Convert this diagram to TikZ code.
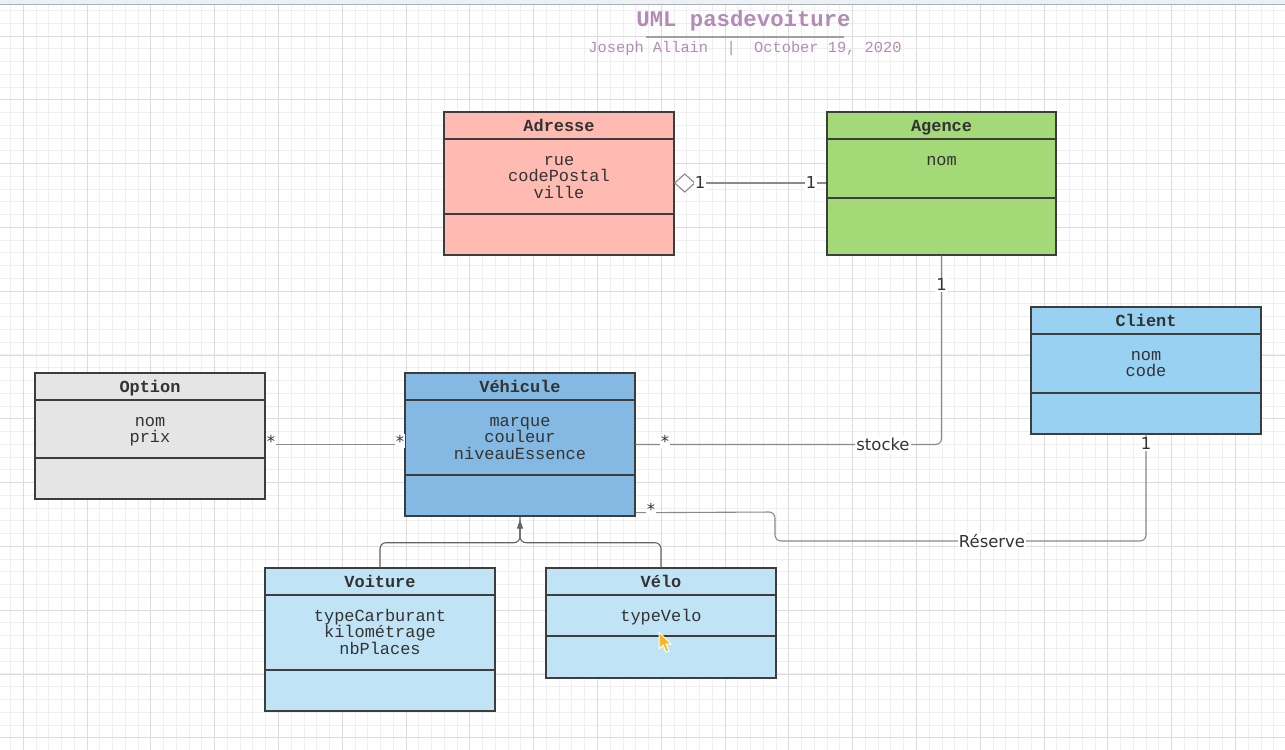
\documentclass[tikz,border=0pt]{standalone}
\usepackage{fontspec}
\usetikzlibrary{calc,arrows.meta}
\newfontfamily\monof{Liberation Mono}
\newfontfamily\sansf{DejaVu Sans}
\definecolor{adrfill}{HTML}{FFBBB1}
\definecolor{agcfill}{HTML}{A3D977}
\definecolor{clifill}{HTML}{99D1F2}
\definecolor{optfill}{HTML}{E5E5E5}
\definecolor{vehfill}{HTML}{83B9E3}
\definecolor{subfill}{HTML}{C0E4F6}
\definecolor{txt}{HTML}{333333}
\definecolor{boxline}{HTML}{3D3D3D}
\definecolor{connline}{HTML}{8A8A8A}
\definecolor{ttl}{RGB}{178,140,182}
\definecolor{gridminor}{HTML}{EFEFEF}
\definecolor{gridmajor}{HTML}{DCDCDC}
\definecolor{bandfill}{HTML}{EEF1F4}
\definecolor{bandline}{HTML}{A8B0BB}
\definecolor{ulinecol}{HTML}{A0A0A0}
\definecolor{cursorcol}{HTML}{F6B820}
\tikzset{
  clsbox/.style={draw=boxline, line width=1.4bp, rectangle, inner sep=0pt},
  clsline/.style={draw=boxline, line width=1.4bp},
  clstitle/.style={font=\monof\bfseries\fontsize{17}{17}\selectfont, text=txt, inner sep=0pt, anchor=base},
  attr/.style={font=\monof\fontsize{17}{17}\selectfont, text=txt, inner sep=0pt, anchor=base},
  conn/.style={draw=connline, line width=1.1bp},
  inhline/.style={draw=boxline!80, line width=1.1bp, rounded corners=6bp},
  lbl/.style={font=\sansf\fontsize{16.5}{17}\selectfont, text=txt, fill=white, inner sep=1bp},
  gridmin/.style={draw=gridminor, line width=1bp},
  gridmaj/.style={draw=gridmajor, line width=1bp},
}
\newcommand\umlbox[9]{%
  \pgfmathsetmacro\bx{(#2+#4)/2}%
  \pgfmathsetmacro\by{(#3+#5)/2}%
  \pgfmathsetmacro\bw{#4-#2}%
  \pgfmathsetmacro\bh{#5-#3}%
  \node[clsbox, fill=#8, minimum width=\bw bp, minimum height=\bh bp] (#1) at (\bx,\by) {};
  \draw[clsline] (#2,#6) -- (#4,#6);
  \draw[clsline] (#2,#7) -- (#4,#7);
  \node[clstitle] (#1-title) at (\bx,{#3+19}) {#9};
}
% name, x centre, divider y, list of attributes
\newcommand\umlattrs[4]{%
  \foreach \t [count=\n] in {#4} {
    \node[attr] (#1-a\n) at (#2,{#3+26+(\n-1)*16.8}) {\t};
  }
}
\begin{document}
\begin{tikzpicture}[x=1bp,y=-1bp]
\useasboundingbox (0,0) rectangle (1285,750);
\fill[white] (0,0) rectangle (1285,750);
% grid (snapped to pixel centres)
\foreach \i in {-2,...,100} { \draw[gridmin] ({floor(23.3+\i*12.76)+0.5},5) -- ({floor(23.3+\i*12.76)+0.5},750); }
\foreach \i in {-2,...,57} { \draw[gridmin] (0,{floor(36+\i*12.76)+0.5}) -- (1285,{floor(36+\i*12.76)+0.5}); }
\foreach \i in {0,...,19} { \draw[gridmaj] ({floor(23.3+\i*63.8)+0.5},5) -- ({floor(23.3+\i*63.8)+0.5},750); }
\foreach \i in {0,...,11} { \draw[gridmaj] (0,{floor(36+\i*63.8)+0.5}) -- (1285,{floor(36+\i*63.8)+0.5}); }
% top band
\fill[bandfill] (0,0) rectangle (1285,4.5);
\draw[bandline, line width=1bp] (0,4.5) -- (1285,4.5);
% title
\node[font=\monof\bfseries\fontsize{22.4}{24}\selectfont, text=ttl, inner sep=0pt] (title) at (743.5,20.5) {UML pasdevoiture};
\draw[ulinecol, line width=1.3bp] (646,37) -- (844,37);
\node[font=\monof\fontsize{15.4}{16}\selectfont, text=ttl, inner sep=0pt] (subtitle) at (745,48.5) {Joseph Allain\ \ |\ \ October 19, 2020};
% classes
\umlbox{adr}{444}{112}{674}{255}{139}{214}{adrfill}{Adresse}
\umlattrs{adr}{559}{139}{rue,codePostal,ville}
\umlbox{agc}{827}{112}{1056}{255}{139}{198}{agcfill}{Agence}
\umlattrs{agc}{941.5}{139}{nom}
\umlbox{cli}{1031}{307}{1261}{434}{334}{393}{clifill}{Client}
\umlattrs{cli}{1146}{334}{nom,code}
\umlbox{opt}{35}{373}{265}{499}{400}{458}{optfill}{Option}
\umlattrs{opt}{150}{400}{nom,prix}
\umlbox{veh}{405}{373}{635}{516}{400}{475}{vehfill}{Véhicule}
\umlattrs{veh}{520}{400}{marque,couleur,niveauEssence}
\umlbox{voi}{265}{568}{495}{711}{595}{670}{subfill}{Voiture}
\umlattrs{voi}{380}{595}{typeCarburant,kilométrage,nbPlaces}
\umlbox{vel}{546}{568}{776}{678}{595}{636}{subfill}{Vélo}
\umlattrs{vel}{661}{595}{typeVelo}
% Adresse -- Agence (aggregation)
\coordinate (adrA) at (adr.east |- 0,183);
\coordinate (agcA) at (agc.west |- 0,183);
\draw[conn] ($(adrA)+(20,0)$) -- (agcA);
\draw[connline, line width=1.1bp, fill=white] (adrA) -- ++(10,-9) -- ++(10,9) -- ++(-10,9) -- cycle;
\node[lbl] (l1a) at (700,183) {1};
\node[lbl] (l1b) at (811,183) {1};
% Agence -- Vehicule (stocke)
\draw[conn, rounded corners=6bp] (agc.south) |- (veh.east);
\node[lbl] (l2a) at (941.5,285) {1};
\node[lbl] (l2b) at (665,441) {*};
\node[lbl] (l2c) at (883,444) {stocke};
% Option -- Vehicule
\draw[conn] (opt.east |- veh.east) -- (veh.west);
\node[lbl] (l3a) at (271,441) {*};
\node[lbl] (l3b) at (400,441) {*};
% Vehicule -- Client (Reserve)
\coordinate (rs) at ($(veh.south east)+(0,-4)$);
\coordinate (rb1) at (775,512);
\coordinate (rb2) at (775,541);
\coordinate (rb3) at (cli.south |- 0,541);
\draw[conn, rounded corners=6bp] (rs) -- (rb1) -- (rb2) -- (rb3) -- (cli.south);
\node[lbl] (l4a) at (651,509) {*};
\node[lbl] (l4b) at (992,541) {Réserve};
\node[lbl] (l4c) at (1146,444) {1};
% inheritance
\coordinate (j) at ($(veh.south)+(0,26)$);
\draw[inhline] (voi.north) |- (j) -- (veh.south);
\draw[inhline] (vel.north) |- (j) -- ($(veh.south)+(0,12)$);
\draw[boxline!80, line width=1.1bp, -{Triangle[width=6bp,length=9bp]}] ($(veh.south)+(0,12)$) -- ($(veh.south)+(0,3)$);
% cursor
\draw[white, line width=1bp, fill=cursorcol] (659,632) -- (659,649) -- (663,645) -- (666,652) -- (669,651) -- (666,644) -- (671,644) -- cycle;
\end{tikzpicture}
\end{document}
